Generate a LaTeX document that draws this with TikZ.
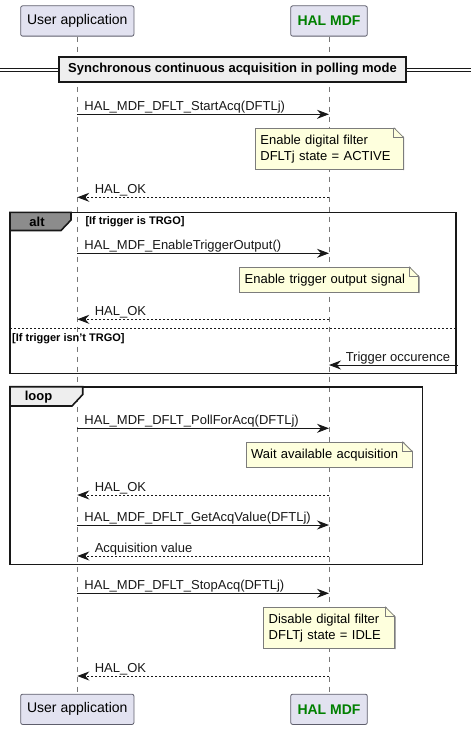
\documentclass[tikz,border=0pt]{standalone}
\usepackage{fontspec}
\setmainfont{Liberation Sans}
\usepackage{xcolor}
\usetikzlibrary{arrows.meta, positioning, calc}
\definecolor{partfill}{HTML}{E2E2F0}
\definecolor{partline}{HTML}{5E5E6C}
\definecolor{notefill}{HTML}{FEFFDD}
\definecolor{noteline}{HTML}{7C7C7C}
\definecolor{halgreen}{HTML}{008000}
\definecolor{tabgray}{HTML}{8C8C8C}
\definecolor{sepfill}{HTML}{EEEEEE}
\definecolor{ink}{HTML}{181818}
\definecolor{lifegray}{HTML}{777777}
\tikzset{
  participant/.style={rectangle, draw=partline, line width=0.8pt, fill=partfill, rounded corners=2pt, minimum height=30.3pt, inner sep=0pt, font=\fontsize{14}{16}\selectfont},
  lifeline/.style={draw=lifegray, line width=0.9pt, dash pattern=on 5pt off 5pt},
  call/.style={-{Stealth[length=12pt, width=9pt, inset=4pt]}, draw=ink, line width=0.9pt},
  reply/.style={call, dash pattern=on 2pt off 2pt},
  msg/.style={font=\fontsize{13}{15}\selectfont, inner sep=0pt, text=ink},
  notebox/.style={rectangle, draw=noteline, line width=0.8pt, fill=notefill, anchor=north west, inner xsep=5pt, inner ysep=0pt, align=left, font=\fontsize{13}{15.6}\selectfont},
  framebox/.style={draw=ink, line width=1.6pt},
  tablabel/.style={font=\bfseries\fontsize{13}{15}\selectfont, inner sep=0pt},
  guard/.style={font=\bfseries\fontsize{11}{13}\selectfont, inner sep=0pt, anchor=west},
}
\newcommand{\notefold}[1]{%
  \fill[white] ($(#1.north east)+(-10,-1)$) -- ($(#1.north east)+(1,-1)$) -- ($(#1.north east)+(1,10)$) -- cycle;
  \draw[noteline, line width=0.8pt] ($(#1.north east)+(-10,0)$) -- ($(#1.north east)+(0,10)$) -- ($(#1.south east)$);
  \draw[noteline, line width=0.8pt] ($(#1.north east)+(-10,0)$) -- ++(0,10) -- ++(10,0);
}

\begin{document}
\begin{tikzpicture}[x=1pt, y=-1pt, font=\fontsize{13}{15}\selectfont]
  \useasboundingbox (0,0) rectangle (471,730);

  % Participants
  \node[participant, minimum width=113.3pt] (ua) at (77.3,21) {User application};
  \node[participant, minimum width=76.6pt, font=\bfseries\fontsize{14}{16}\selectfont, text=halgreen] (ha) at (329,21) {HAL MDF};
  \node[participant, minimum width=113.3pt] (ub) at (77.3,709.3) {User application};
  \node[participant, minimum width=76.6pt, font=\bfseries\fontsize{14}{16}\selectfont, text=halgreen] (hb) at (329,709.3) {HAL MDF};

  % Lifelines
  \draw[lifeline] (ua.south) -- (ub.north);
  \draw[lifeline] (ha.south) -- (hb.north);

  % Points on the lifelines
  \foreach \n/\y in {s1/114.3, r1/197.3, s2/253.3, r2/319.3, t1/365, s3/428.3, r3/495, s4/525, r4/556, s5/593.3, r5/676} {
    \coordinate (u\n) at (ua.south |- 0,\y);
    \coordinate (h\n) at (ha.south |- 0,\y);
  }
  \coordinate (trig) at (457.5,365);

  % Divider
  \draw[ink, line width=0.8pt] (0,68.7) -- (471,68.7);
  \draw[ink, line width=0.8pt] (0,71.3) -- (471,71.3);
  \node[rectangle, draw=ink, line width=1.6pt, fill=sepfill, minimum width=347pt, minimum height=25.3pt, inner sep=0pt,
        font=\bfseries\fontsize{13}{15}\selectfont] (divider) at (232.5,69.4) {Synchronous continuous acquisition in polling mode};

  % Frames
  \draw[framebox] (10,212.3) rectangle (456,373.3);
  \draw[framebox, fill=tabgray] (10,212.3) -- (71,212.3) -- (71,220) -- (61,230.5) -- (10,230.5) -- cycle;
  \node[tablabel] (alt) at (37,221.6) {alt};
  \node[guard] (g1) at (85.3,221.6) {[If trigger is TRGO]};
  \draw[ink, line width=0.8pt, dash pattern=on 2pt off 2pt] (10,328.3) -- (456,328.3);
  \node[guard] (g2) at (12,339) {[If trigger isn't TRGO]};

  \draw[framebox] (10,386.7) rectangle (422.3,564.3);
  \draw[framebox, fill=sepfill] (10,386.7) -- (82.7,386.7) -- (82.7,394.5) -- (72,406) -- (10,406) -- cycle;
  \node[tablabel] (loop) at (38.5,397.6) {loop};

  % Notes
  \node[notebox, text width=138pt, minimum height=41.6pt] (n1) at (255,127.7) {Enable digital filter\\DFLTj state = ACTIVE};
  \notefold{n1}
  \node[notebox, text width=169pt, minimum height=25.6pt] (n2) at (239.3,266.7) {Enable trigger output signal};
  \notefold{n2}
  \node[notebox, text width=156pt, minimum height=25.6pt] (n3) at (245.7,441.7) {Wait available acquisition};
  \notefold{n3}
  \node[notebox, text width=121pt, minimum height=41.6pt] (n4) at (263.3,606.7) {Disable digital filter\\DFLTj state = IDLE};
  \notefold{n4}

  % Messages
  \draw[call] (us1) -- (hs1) node[msg, pos=0, anchor=base west, xshift=6.7pt, yshift=4pt] {HAL\_MDF\_DFLT\_StartAcq(DFTLj)};
  \draw[reply] (hr1) -- (ur1) node[msg, pos=1, anchor=base west, xshift=17pt, yshift=4pt] {HAL\_OK};
  \draw[call] (us2) -- (hs2) node[msg, pos=0, anchor=base west, xshift=6.7pt, yshift=4pt] {HAL\_MDF\_EnableTriggerOutput()};
  \draw[reply] (hr2) -- (ur2) node[msg, pos=1, anchor=base west, xshift=17pt, yshift=4pt] {HAL\_OK};
  \draw[call] (trig) -- (ht1) node[msg, pos=0, anchor=base east, xshift=-7pt, yshift=4pt] {Trigger occurence};
  \draw[call] (us3) -- (hs3) node[msg, pos=0, anchor=base west, xshift=6.7pt, yshift=4pt] {HAL\_MDF\_DFLT\_PollForAcq(DFTLj)};
  \draw[reply] (hr3) -- (ur3) node[msg, pos=1, anchor=base west, xshift=17pt, yshift=4pt] {HAL\_OK};
  \draw[call] (us4) -- (hs4) node[msg, pos=0, anchor=base west, xshift=6.7pt, yshift=4pt] {HAL\_MDF\_DFLT\_GetAcqValue(DFTLj)};
  \draw[reply] (hr4) -- (ur4) node[msg, pos=1, anchor=base west, xshift=17pt, yshift=4pt] {Acquisition value};
  \draw[call] (us5) -- (hs5) node[msg, pos=0, anchor=base west, xshift=6.7pt, yshift=4pt] {HAL\_MDF\_DFLT\_StopAcq(DFTLj)};
  \draw[reply] (hr5) -- (ur5) node[msg, pos=1, anchor=base west, xshift=17pt, yshift=4pt] {HAL\_OK};
\end{tikzpicture}
\end{document}
